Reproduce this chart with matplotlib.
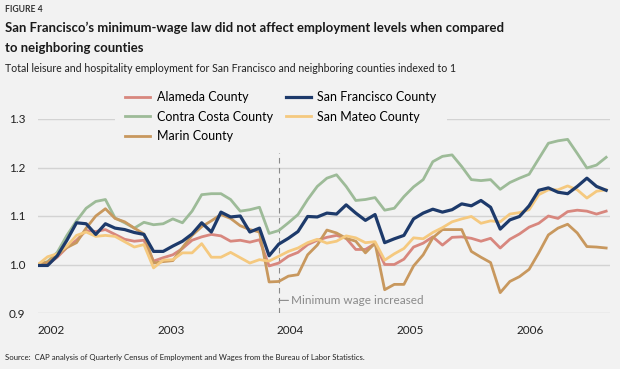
import matplotlib
matplotlib.use('Agg')
import matplotlib.pyplot as plt
import numpy as np

# Monthly index values, Jan 2002 - Dec 2006
alameda = [1.000, 1.000, 1.015, 1.035, 1.050, 1.070, 1.068, 1.072, 1.062, 1.052,
           1.048, 1.050, 1.007, 1.014, 1.020, 1.033, 1.050, 1.057, 1.062, 1.059,
           1.048, 1.050, 1.046, 1.051, 0.997, 1.003, 1.017, 1.025, 1.041, 1.050,
           1.056, 1.060, 1.054, 1.031, 1.031, 1.043, 1.000, 1.000, 1.011, 1.036,
           1.044, 1.057, 1.040, 1.056, 1.057, 1.054, 1.048, 1.054, 1.034, 1.052,
           1.063, 1.077, 1.085, 1.100, 1.095, 1.109, 1.112, 1.110, 1.104, 1.110]
contra_costa = [1.000, 1.006, 1.025, 1.060, 1.090, 1.116, 1.130, 1.134, 1.096, 1.086,
                1.075, 1.087, 1.082, 1.084, 1.094, 1.086, 1.110, 1.144, 1.146, 1.146,
                1.134, 1.110, 1.113, 1.118, 1.064, 1.070, 1.086, 1.103, 1.134, 1.161,
                1.178, 1.185, 1.161, 1.132, 1.134, 1.138, 1.112, 1.116, 1.140, 1.160,
                1.175, 1.212, 1.223, 1.226, 1.202, 1.175, 1.173, 1.175, 1.155, 1.169,
                1.178, 1.186, 1.218, 1.250, 1.255, 1.258, 1.229, 1.199, 1.205, 1.221]
marin = [1.000, 1.005, 1.020, 1.035, 1.045, 1.075, 1.100, 1.115, 1.095, 1.088,
         1.075, 1.063, 1.003, 1.006, 1.008, 1.035, 1.060, 1.078, 1.090, 1.103,
         1.095, 1.080, 1.072, 1.067, 0.964, 0.965, 0.976, 0.979, 1.020, 1.040,
         1.071, 1.065, 1.054, 1.048, 1.024, 1.044, 0.948, 0.959, 0.959, 0.997,
         1.020, 1.055, 1.072, 1.072, 1.072, 1.027, 1.015, 1.004, 0.942, 0.965,
         0.975, 0.990, 1.024, 1.061, 1.075, 1.083, 1.065, 1.037, 1.036, 1.034]
san_francisco = [0.998, 0.998, 1.018, 1.050, 1.086, 1.084, 1.062, 1.084, 1.075, 1.072,
                 1.066, 1.062, 1.027, 1.027, 1.038, 1.048, 1.063, 1.086, 1.067, 1.108,
                 1.098, 1.100, 1.067, 1.075, 1.018, 1.042, 1.054, 1.068, 1.099, 1.098,
                 1.106, 1.104, 1.123, 1.106, 1.091, 1.103, 1.045, 1.053, 1.060, 1.094,
                 1.106, 1.114, 1.108, 1.113, 1.125, 1.121, 1.132, 1.118, 1.073, 1.092,
                 1.099, 1.121, 1.153, 1.158, 1.149, 1.146, 1.161, 1.178, 1.161, 1.153]
san_mateo = [1.000, 1.016, 1.022, 1.038, 1.060, 1.067, 1.058, 1.060, 1.058, 1.047,
             1.036, 1.041, 0.993, 1.009, 1.010, 1.024, 1.024, 1.043, 1.015, 1.015,
             1.025, 1.014, 1.003, 1.010, 1.007, 1.017, 1.027, 1.034, 1.045, 1.052,
             1.044, 1.048, 1.059, 1.055, 1.045, 1.047, 1.009, 1.022, 1.033, 1.055,
             1.053, 1.066, 1.076, 1.088, 1.094, 1.099, 1.085, 1.090, 1.088, 1.104,
             1.107, 1.113, 1.144, 1.154, 1.154, 1.162, 1.154, 1.137, 1.151, 1.154]

years = ['2002', '2003', '2004', '2005', '2006']
year_pos = [0, 12.4, 24.8, 37.2, 49.65]   # label positions in months (as placed in the original)
y_ticks = [0.9, 1.0, 1.1, 1.2, 1.3]
wage_change = 25   # Feb 2004

bg = '#f2f2f2'
plt.rcParams['font.family'] = ['Lato', 'DejaVu Sans']
narrow = ['Liberation Sans Narrow', 'Lato', 'DejaVu Sans']

fig = plt.figure(figsize=(6.2, 3.69), dpi=100, facecolor=bg)
ax = fig.add_axes([38 / 620, 1 - 313 / 369, 572 / 620, 194 / 369])
ax.set_facecolor(bg)

x = np.arange(len(san_francisco))
l_cc, = ax.plot(x, contra_costa, color='#9dbb98', lw=2, label='Contra Costa County', zorder=2)
l_al, = ax.plot(x, alameda, color='#d8877e', lw=2, label='Alameda County', zorder=3)
l_ma, = ax.plot(x, marin, color='#c8985e', lw=2, label='Marin County', zorder=3)
l_sm, = ax.plot(x, san_mateo, color='#f5c97f', lw=2, label='San Mateo County', zorder=4)
l_sf, = ax.plot(x, san_francisco, color='#1d3a6b', lw=2.3, label='San Francisco County', zorder=5)

ax.set_xlim(0, 59.4)
ax.set_ylim(0.9, 1.3)
ax.set_yticks(y_ticks, [f'{v:.1f}' for v in y_ticks])
ax.set_xticks(year_pos, years)
for lbl in ax.get_xticklabels():
    lbl.set_horizontalalignment('left')
ax.grid(axis='y', color='#d3d3d3', lw=1)
ax.set_axisbelow(True)
for s in ax.spines.values():
    s.set_visible(False)
ax.tick_params(length=0, pad=9, labelsize=8.5, labelcolor='#222222')

# minimum wage marker
ax.axvline(wage_change, ymin=0, ymax=0.9, color='#8a8a8a', lw=0.8, ls=(0, (5, 4)), zorder=1)
ax.annotate('Minimum wage increased', xy=(wage_change, 0.926), xytext=(9, 0),
            textcoords='offset points', va='center', ha='left', fontsize=8.5,
            color='#8a8a8a',
            arrowprops=dict(arrowstyle='-', color='#8a8a8a', lw=0.8,
                            shrinkA=0, shrinkB=0, relpos=(0, 0.5)))

handles = [l_al, l_cc, l_ma, l_sf, l_sm]
ax.legend(handles=handles, ncol=2, loc='upper left',
          bbox_to_anchor=(115 / 620, 1 - 81 / 369), bbox_transform=fig.transFigure,
          frameon=True, facecolor=bg, edgecolor='none', framealpha=1, fontsize=9,
          handlelength=2.0, handletextpad=0.55, columnspacing=1.0,
          labelspacing=0.62, borderpad=0.8, borderaxespad=0)

renderer = fig.canvas.get_renderer()


def fit(t, width_px):
    w = t.get_window_extent(renderer).width
    t.set_fontsize(t.get_fontsize() * width_px / w)


t0 = fig.text(5 / 620, 1 - 11.7 / 369, 'FIGURE 4', fontsize=7, fontweight='bold',
              color='#333333', va='baseline')
fit(t0, 38)
t1 = fig.text(5 / 620, 1 - 31.7 / 369,
              'San Francisco\u2019s minimum-wage law did not affect employment levels when compared',
              fontsize=11, fontweight='bold', color='#1a1a1a', va='baseline')
fit(t1, 497)
fig.text(5 / 620, 1 - 51.7 / 369, 'to neighboring counties', fontsize=t1.get_fontsize(),
         fontweight='bold', color='#1a1a1a', va='baseline')
t2 = fig.text(5 / 620, 1 - 71.7 / 369,
              'Total leisure and hospitality employment for San Francisco and neighboring counties indexed to 1',
              fontsize=9, family=narrow, color='#222222', va='baseline')
fit(t2, 451)
t3 = fig.text(5 / 620, 1 - 360 / 369,
              'Source:  CAP analysis of Quarterly Census of Employment and Wages from the Bureau of Labor Statistics.',
              fontsize=7, family=narrow, color='#222222', va='baseline')
fit(t3, 363)

fig.savefig('out.png', dpi=100, facecolor=bg)
